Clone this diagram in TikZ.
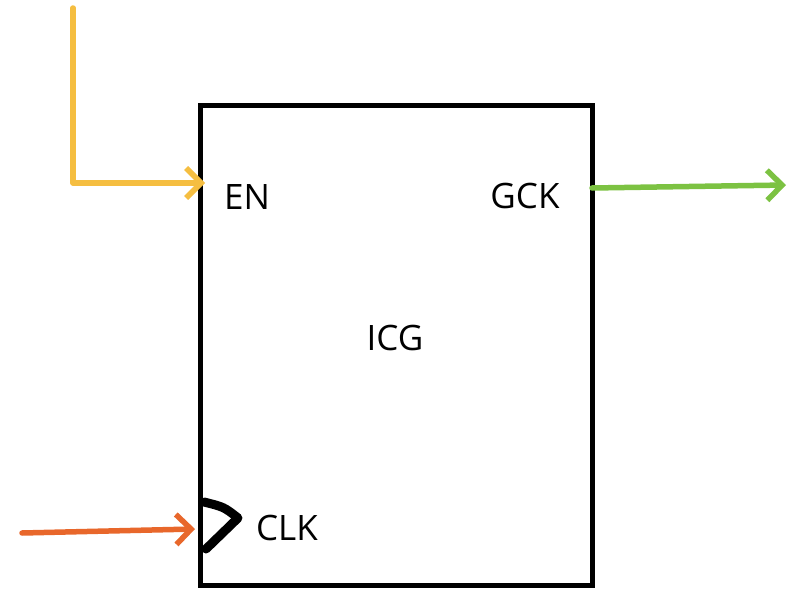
\documentclass[tikz,border=0pt]{standalone}
\usepackage{fontspec}
\setmainfont{Open Sans}
\usetikzlibrary{arrows.meta}
\definecolor{enyellow}{HTML}{F5BE41}
\definecolor{gckgreen}{HTML}{7CC242}
\definecolor{clkorange}{HTML}{E8672B}
\tikzset{
  pin/.style={line width=5.5pt, line cap=round, line join=round,
    -{Straight Barb[length=15pt,width=30pt]}},
  lbl/.style={font=\fontsize{35}{42}\selectfont, inner sep=0pt}
}
\begin{document}
\begin{tikzpicture}[x=1pt,y=-1pt]
  \useasboundingbox (0,0) rectangle (798,610);
  \node[draw, line width=5pt, minimum width=392pt, minimum height=480pt,
    inner sep=0pt] (icg) at (396,345) {};
  \node[lbl] (core) at (395,338) {ICG};
  \node[lbl] (en) at (247,197) {EN};
  \node[lbl] (gck) at (525,196) {GCK};
  \node[lbl] (clk) at (287,528) {CLK};
  \coordinate (enin) at (73,8);
  \coordinate (enpin) at (205,183);
  \coordinate (gckpin) at (592,188);
  \coordinate (gckout) at (786,185);
  \coordinate (clkin) at (22,533);
  \coordinate (clkpin) at (195,529);
  % clock mark
  \draw[line width=9pt, line cap=round, line join=round]
    (204,502) .. controls (224,507) .. (238,518) -- (206,549);
  \draw[pin, enyellow] (enin) |- (enpin);
  \draw[pin, gckgreen] (gckpin) -- (gckout);
  \draw[pin, clkorange] (clkin) -- (clkpin);
\end{tikzpicture}
\end{document}
